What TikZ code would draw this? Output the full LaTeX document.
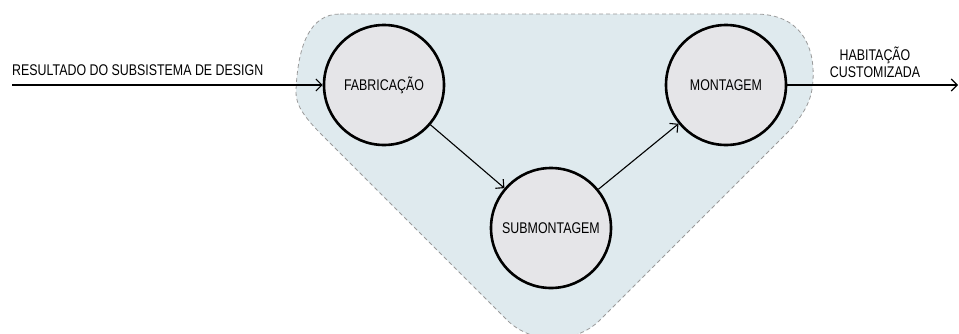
\documentclass[tikz,border=0pt]{standalone}
\usepackage{fontspec}
\setmainfont[FakeStretch=0.8]{Liberation Sans}
\usetikzlibrary{arrows.meta}
\definecolor{bgfill}{HTML}{DFEAEE}
\definecolor{bgline}{HTML}{9A9A9A}
\definecolor{circfill}{HTML}{E5E5E8}
\tikzset{
  stage/.style={circle, draw=black, line width=2.6pt, fill=circfill, minimum size=120pt, inner sep=0pt, font=\fontsize{15.5}{17}\selectfont},
  flow/.style={draw=black, line width=1.1pt, -{Straight Barb[length=6pt,width=12pt,line width=1.1pt]}},
  lbl/.style={font=\fontsize{15.5}{17}\selectfont, inner sep=0pt},
}
\begin{document}
\begin{tikzpicture}[x=1pt,y=-1pt]
\useasboundingbox (0,0) rectangle (959,333);
% background region
\fill[bgfill] (340,14) -- (755,14) .. controls (800,14) and (815,45) .. (813,80)
  .. controls (812,100) and (805,112) .. (790,130)
  -- (600,320) .. controls (575,345) and (530,345) .. (505,318)
  -- (323,136) .. controls (305,118) and (295,105) .. (296,90)
  .. controls (298,45) and (310,14) .. (340,14) -- cycle;
\draw[bgline, line width=0.8pt, dash pattern=on 4pt off 3pt] (340,14) -- (755,14) .. controls (800,14) and (815,45) .. (813,80)
  .. controls (812,100) and (805,112) .. (790,130)
  -- (600,320) .. controls (575,345) and (530,345) .. (505,318)
  -- (323,136) .. controls (305,118) and (295,105) .. (296,90)
  .. controls (298,45) and (310,14) .. (340,14) -- cycle;

\node[stage] (fab) at (384,85) {FABRICAÇÃO};
\node[stage] (sub) at (551,228) {SUBMONTAGEM};
\node[stage] (mon) at (726,85) {MONTAGEM};

\coordinate (in) at (12,85);
\coordinate (out) at (958,85);

\node[lbl, anchor=south west] (inlbl) at (12,76) {RESULTADO DO SUBSISTEMA DE DESIGN};
\node[lbl, align=center, anchor=south] (outlbl) at (875,78) {HABITAÇÃO\\CUSTOMIZADA};

\draw[flow] (in) -- (fab);
\draw[flow] (fab) -- (sub);
\draw[flow] (sub) -- (mon);
\draw[flow] (mon) -- (out);
\end{tikzpicture}
\end{document}
